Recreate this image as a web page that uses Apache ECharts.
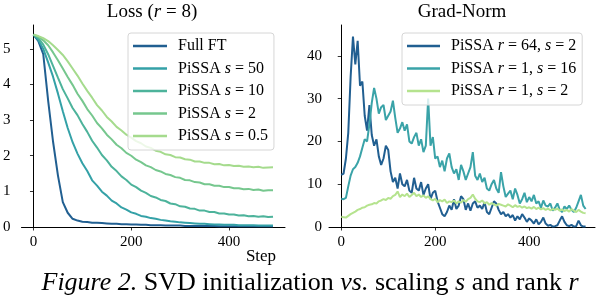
<!DOCTYPE html>
<html><head><meta charset="utf-8">
<script src="https://cdn.jsdelivr.net/npm/echarts@6/dist/echarts.min.js"></script>
<style>html,body{margin:0;padding:0;background:#fff;}#c{width:596px;height:304px;}</style>
</head><body><div id="c"></div>
<script>
// ---------- Loss panel (r = 8) ----------
const lossSteps = [0,10,20,30,40,50,60,70,80,90,100,110,120,130,140,150,160,170,180,190,200,210,220,230,240,250,260,270,280,290,300,310,320,330,340,350,360,370,380,390,400,410,420,430,440,450,460,470,480,490];
const lossFullFT = [5.40,5.22,4.85,3.55,2.40,1.45,0.70,0.40,0.23,0.18,0.15,0.14,0.12,0.12,0.11,0.10,0.09,0.09,0.08,0.08,0.07,0.07,0.06,0.06,0.05,0.05,0.05,0.04,0.04,0.04,0.04,0.03,0.03,0.03,0.03,0.03,0.03,0.03,0.02,0.02,0.02,0.02,0.02,0.02,0.02,0.02,0.02,0.02,0.02,0.02];
const lossS50 = [5.40,5.25,5.00,4.62,4.22,3.75,3.25,2.78,2.38,2.06,1.79,1.57,1.31,1.16,0.99,0.88,0.74,0.66,0.55,0.49,0.41,0.37,0.31,0.29,0.25,0.23,0.20,0.18,0.16,0.15,0.13,0.12,0.11,0.10,0.09,0.09,0.08,0.07,0.07,0.06,0.06,0.06,0.05,0.05,0.05,0.05,0.04,0.04,0.04,0.04];
const lossS10 = [5.40,5.30,5.12,4.85,4.52,4.19,3.87,3.61,3.34,3.14,2.89,2.67,2.42,2.23,2.02,1.87,1.69,1.57,1.42,1.32,1.19,1.12,1.02,0.96,0.87,0.83,0.76,0.73,0.66,0.64,0.58,0.57,0.52,0.51,0.46,0.46,0.42,0.42,0.38,0.38,0.35,0.35,0.32,0.33,0.30,0.31,0.29,0.30,0.28,0.29];
const lossS2 = [5.40,5.34,5.24,5.10,4.90,4.68,4.45,4.21,3.99,3.74,3.54,3.31,3.13,2.92,2.77,2.59,2.46,2.31,2.21,2.08,2.00,1.89,1.82,1.73,1.68,1.60,1.56,1.49,1.46,1.40,1.38,1.32,1.31,1.26,1.25,1.20,1.20,1.16,1.16,1.12,1.12,1.09,1.09,1.06,1.07,1.04,1.05,1.02,1.03,1.03];
const lossS05 = [5.40,5.36,5.30,5.22,5.10,4.97,4.83,4.65,4.45,4.25,4.03,3.82,3.63,3.42,3.27,3.09,2.96,2.81,2.71,2.59,2.51,2.41,2.35,2.26,2.22,2.14,2.11,2.04,2.02,1.96,1.95,1.90,1.89,1.84,1.84,1.80,1.80,1.76,1.77,1.73,1.74,1.71,1.72,1.69,1.70,1.68,1.69,1.66,1.67,1.68];

// ---------- Grad-Norm panel ----------
const gradSteps = [0,5,10,15,20,25,30,35,40,45,50,55,60,65,70,75,80,85,90,95,100,105,110,115,120,125,130,135,140,145,150,155,160,165,170,175,180,185,190,195,200,205,210,215,220,225,230,235,240,245,250,255,260,265,270,275,280,285,290,295,300,305,310,315,320,325,330,335,340,345,350,355,360,365,370,375,380,385,390,395,400,405,410,415,420,425,430,435,440,445,450,455,460,465,470,475,480,485,490,495,500,505,510,515,520];
const gradR64 = [12.2,12.5,16,22,35,44.5,38,43.5,33,34,26,22.5,28.5,21.5,19,20.5,16.5,14.5,16,19,18,13,10.5,11.5,9,12.5,10,9.5,11,8.5,8,11.5,9,8.5,10.5,7.5,9,10,6.5,8,8.5,6,4.5,3,2.5,3.5,5,4,6.5,4.2,5,7.2,6.5,4,5.5,3.8,5.5,6,4.5,5,4.2,5.8,3.5,3,4.5,6,5.5,4,3,3.5,2.5,3,2.2,2.8,1.5,2.5,1.8,3,2.2,1.2,2,1.5,0.8,1.8,0.6,1.2,2.2,0.8,0.3,0.5,0.1,0.2,0.4,1.5,2.5,1.2,0.4,0.2,0.5,0.1,0.2,1.5,0.4,0.1,0.1];
const gradR1S16 = [6.6,6.5,6.8,9.5,12,13.5,14,15,16.5,18.5,20.5,20,24,29,32.5,30,26.5,28,28.5,25,26,27,29.5,25.5,22,23,24.5,22.5,24,20,19.5,21,22,19,20.5,17.5,19,30,19,21,16,16.5,14,15.5,13,16,17.2,14,12.5,13.5,11,14.5,13,11,12.5,14,17.5,12,11,12.5,10.5,11.5,9,8.5,10,11,9,8,12.8,9.5,7,7.8,8.5,6.5,9,7.5,5.5,6.5,8,5.8,7,6,7.5,5.5,6,4.5,6.2,5,4.8,5.5,3.8,4.5,5.5,4,3.5,4.8,4.2,5,4,3.5,4.5,6,7.5,5,4.2];
const gradR1S2 = [2.4,2.3,2.2,2.6,3,3.3,3.6,4,4.2,4.5,4.6,5,5.2,5.3,5.6,5.5,6,6.2,6.5,6.3,6.8,6.6,7.2,7.5,8.3,7,7.6,7.2,7.8,7,7.5,8,7.2,7.6,7,7.4,6.8,7.2,6.5,6.2,6.6,5.8,6.3,6,6.4,5.6,6,5.8,6.2,5.5,6,5.7,6.3,5.9,6.5,6.8,7.6,6.6,6,5.8,6.2,5.5,5.8,5.2,5.6,5.3,5,5.4,5.2,5,4.8,5.3,5,4.6,5.1,4.7,4.9,4.5,4.8,4.4,4.6,4.3,4.7,4.2,4.5,4.1,4.4,4,4.3,3.9,4.2,4,4.3,3.8,4.1,3.7,4,3.6,4.2,3.8,3.5,4,3.6,3.3,3.2];

// ---------- tick labels ----------
const stepTicks = [0,200,400];
const lossTicks = [0,1,2,3,4,5];
const gradTicks = [0,10,20,30,40];

const FONT = "Liberation Serif";
const mkRich = (size) => ({
  i: { fontStyle: 'italic', fontFamily: FONT, fontSize: size, fill: '#000', color: '#000' },
  n: { fontFamily: FONT, fontSize: size, fill: '#000', color: '#000' }
});

const pair = (xs, ys) => xs.map((x, i) => [x, ys[i]]);

const leftSeries = [
  { name: 'Full FT', color: '#215f91', data: lossFullFT },
  { name: 'PiSSA s=50', color: '#34a1a7', data: lossS50 },
  { name: 'PiSSA s=10', color: '#4db39b', data: lossS10 },
  { name: 'PiSSA s=2', color: '#76c78e', data: lossS2 },
  { name: 'PiSSA s=0.5', color: '#a5db8d', data: lossS05 }
];
const rightSeries = [
  { name: 'PiSSA r=64, s=2', color: '#215f91', data: gradR64 },
  { name: 'PiSSA r=1, s=16', color: '#3aa3a8', data: gradR1S16 },
  { name: 'PiSSA r=1, s=2', color: '#b5e38e', data: gradR1S2 }
];
const labelMap = {
  'Full FT': '{n|Full FT}',
  'PiSSA s=50': '{n|PiSSA }{i|s}{n| = 50}',
  'PiSSA s=10': '{n|PiSSA }{i|s}{n| = 10}',
  'PiSSA s=2': '{n|PiSSA }{i|s}{n| = 2}',
  'PiSSA s=0.5': '{n|PiSSA }{i|s}{n| = 0.5}',
  'PiSSA r=64, s=2': '{n|PiSSA }{i|r}{n| = 64, }{i|s}{n| = 2}',
  'PiSSA r=1, s=16': '{n|PiSSA }{i|r}{n| = 1, }{i|s}{n| = 16}',
  'PiSSA r=1, s=2': '{n|PiSSA }{i|r}{n| = 1, }{i|s}{n| = 2}'
};

const axisCommon = {
  axisLine: { show: true, lineStyle: { color: '#000', width: 1 } },
  axisTick: { show: true, length: 3.5, lineStyle: { color: '#000', width: 0.8 } },
  splitLine: { show: false },
  axisLabel: { color: '#000', fontFamily: FONT, fontSize: 15 }
};
function xAx(gi, min, max) {
  return Object.assign({}, axisCommon, {
    type: 'value', gridIndex: gi, min: min, max: max,
    axisTick: Object.assign({}, axisCommon.axisTick, { customValues: stepTicks }),
    axisLabel: Object.assign({}, axisCommon.axisLabel, { customValues: stepTicks, margin: 8 })
  });
}
function yAx(gi, min, max, ticks, margin) {
  return Object.assign({}, axisCommon, {
    type: 'value', gridIndex: gi, min: min, max: max,
    axisTick: Object.assign({}, axisCommon.axisTick, { customValues: ticks }),
    axisLabel: Object.assign({}, axisCommon.axisLabel, { customValues: ticks, margin: margin })
  });
}

const series = [];
leftSeries.forEach(s => series.push({
  name: s.name, type: 'line', xAxisIndex: 0, yAxisIndex: 0, data: pair(lossSteps, s.data),
  showSymbol: false, symbol: 'none', lineStyle: { color: s.color, width: 2 }, itemStyle: { color: s.color }, z: 2
}));
rightSeries.forEach(s => series.push({
  name: s.name, type: 'line', xAxisIndex: 1, yAxisIndex: 1, data: pair(gradSteps, s.data),
  showSymbol: false, symbol: 'none', lineStyle: { color: s.color, width: 2 }, itemStyle: { color: s.color }, z: 2
}));

const legendCommon = {
  orient: 'vertical', icon: 'rect', itemHeight: 2.6, itemGap: 6.5,
  backgroundColor: 'rgba(255,255,255,0.8)', borderColor: '#d6d6d6', borderWidth: 1, borderRadius: 3,
  formatter: n => labelMap[n],
  textStyle: { fontFamily: FONT, fontSize: 16, color: '#000', lineHeight: 16, padding: [0, 0, 0, 6], rich: mkRich(16) },
  z: 5
};

const chart = echarts.init(document.getElementById('c'), null, { renderer: 'canvas' });
chart.setOption({
  animation: false,
  backgroundColor: '#fff',
  grid: [
    { left: 20, top: 25, width: 265, height: 202 },
    { left: 329, top: 25, width: 266, height: 202 }
  ],
  xAxis: [xAx(0, -24.5, 514.5), xAx(1, -26, 540)],
  yAxis: [yAx(0, 0, 5.67, lossTicks, 11), yAx(1, 0, 47.2, gradTicks, 7)],
  legend: [
    Object.assign({}, legendCommon, { left: 128, top: 33, padding: [5, 6, 6, 5], itemWidth: 34,
      data: leftSeries.map(s => s.name) }),
    Object.assign({}, legendCommon, { left: 402, top: 33, padding: [5, 6, 6, 5], itemWidth: 33,
      data: rightSeries.map(s => s.name) })
  ],
  graphic: [
    { type: 'text', x: 152, y: 12, style: { text: '{n|Loss (}{i|r}{n| = 8)}', rich: mkRich(19),
      fontFamily: FONT, fontSize: 19, fill: '#000', align: 'center', verticalAlign: 'middle' } },
    { type: 'text', x: 462, y: 12, style: { text: 'Grad-Norm', fontFamily: FONT, fontSize: 19, fill: '#000', align: 'center', verticalAlign: 'middle' } },
    { type: 'text', x: 261, y: 257, style: { text: 'Step', fontFamily: FONT, fontSize: 17, fill: '#000', align: 'center', verticalAlign: 'middle' } },
    { type: 'text', x: 310, y: 283, style: {
      text: '{i|Figure 2.}{n| SVD initialization }{i|vs.}{n| scaling }{i|s}{n| and rank }{i|r}',
      rich: mkRich(26),
      fontFamily: FONT, fontSize: 26, fill: '#000', align: 'center', verticalAlign: 'middle' } }
  ],
  series: series
});
</script></body></html>
